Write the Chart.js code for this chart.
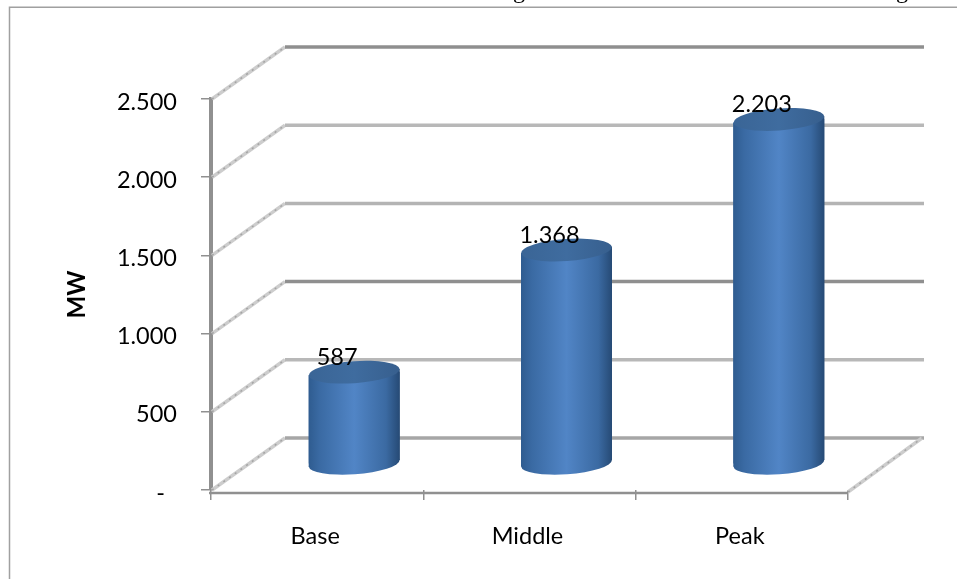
<!DOCTYPE html>
<html>
<head>
<meta charset="utf-8">
<title>MW by load type</title>
<script src="https://cdn.jsdelivr.net/npm/chart.js@4/dist/chart.umd.min.js"></script>
<style>
    html, body { margin: 0; padding: 0; background: #fff; overflow: hidden; }
    #wrap { position: relative; width: 957px; height: 579px; }
</style>
</head>
<body>
<div id="wrap"><canvas id="loadChart" width="957" height="579"></canvas></div>
<script>
const categories = ['Base', 'Middle', 'Peak'];
const mwValues = [587, 1368, 2203];
const valueLabels = ['587', '1.368', '2.203'];
const yTickValues = [0, 500, 1000, 1500, 2000, 2500];
const yTickLabels = ['-  ', '500', '1.000', '1.500', '2.000', '2.500'];
const gridColors = ['#a6a6a6', '#b8b8b8', '#8f8f8f', '#b4b4b4', '#b8b8b8', '#8f8f8f'];

const AXIS_GREY = '#909090';
const FONT = 'Lato, sans-serif';

// depth of the 3D box, the bars stand halfway into it
const DEPTH_X = 74;
const DEPTH_Y = -52;
const BAR_DX = 37;
const BAR_DY = -26;
const CAP_RY = 11;
const CAP_TILT = -0.07;

function barGradient(ctx, x, w) {
    const g = ctx.createLinearGradient(x - w / 2, 0, x + w / 2, 0);
    g.addColorStop(0, '#2f5c90');
    g.addColorStop(0.12, '#3a6aa3');
    g.addColorStop(0.5, '#5185c6');
    g.addColorStop(0.85, '#3b6aa2');
    g.addColorStop(1, '#264a75');
    return g;
}

// four corners of the cylinder wall, slanted with the caps
function wallPath(ctx, bar) {
    const rx = bar.width / 2;
    const lift = Math.sin(-CAP_TILT) * rx;
    ctx.moveTo(bar.x - rx, bar.y + lift);
    ctx.lineTo(bar.x + rx, bar.y - lift);
    ctx.lineTo(bar.x + rx, bar.base - lift);
    ctx.lineTo(bar.x - rx, bar.base + lift);
    ctx.closePath();
}

// back wall, side wall and floor, all hung off the value scale
const box3d = {
    id: 'box3d',
    beforeDraw(chart) {
        const ctx = chart.ctx;
        ctx.save();
        // outer frame runs off the right and bottom of the canvas
        ctx.strokeStyle = '#a0a0a0';
        ctx.lineWidth = 1.5;
        ctx.strokeRect(9.5, 7.25, 1000, 700);
        // heading line above the frame, only its descenders are in view
        ctx.fillStyle = '#000';
        ctx.font = '24px "Liberation Serif"';
        ctx.textAlign = 'center';
        ctx.textBaseline = 'alphabetic';
        ctx.fillText('g', 519, -2);
        ctx.fillText('g', 902, -2);
        ctx.restore();
    },
    beforeDatasetsDraw(chart) {
        const { ctx, chartArea: area } = chart;
        const y = chart.scales.y;
        ctx.save();
        yTickValues.forEach((v, i) => {
            const py = y.getPixelForValue(v);
            // side wall diagonal
            ctx.lineCap = 'butt';
            ctx.strokeStyle = '#cdcdcd';
            ctx.lineWidth = 3.5;
            ctx.beginPath();
            ctx.moveTo(area.left + 1, py);
            ctx.lineTo(area.left + DEPTH_X, py + DEPTH_Y);
            ctx.stroke();
            ctx.strokeStyle = '#a4a4a4';
            ctx.lineWidth = 1.5;
            ctx.setLineDash([2, 5]);
            ctx.stroke();
            ctx.setLineDash([]);
            // back wall line
            ctx.strokeStyle = gridColors[i];
            ctx.lineWidth = 3.5;
            ctx.beginPath();
            ctx.moveTo(area.left + DEPTH_X, py + DEPTH_Y);
            ctx.lineTo(area.right + DEPTH_X + 2, py + DEPTH_Y);
            ctx.stroke();
        });
        // floor: right edge and front edge
        const floor = y.getPixelForValue(0);
        ctx.strokeStyle = '#cdcdcd';
        ctx.lineWidth = 3.5;
        ctx.beginPath();
        ctx.moveTo(area.right, floor + 2);
        ctx.lineTo(area.right + DEPTH_X, floor + DEPTH_Y);
        ctx.stroke();
        ctx.strokeStyle = '#a4a4a4';
        ctx.lineWidth = 1.5;
        ctx.setLineDash([2, 5]);
        ctx.stroke();
        ctx.setLineDash([]);
        ctx.strokeStyle = AXIS_GREY;
        ctx.lineWidth = 2.5;
        ctx.beginPath();
        ctx.moveTo(area.left - 2, floor + 3);
        ctx.lineTo(area.right, floor + 3);
        ctx.stroke();
        ctx.restore();
    },
    // bars are shifted into the box, with a round base underneath
    beforeDatasetDraw(chart, args) {
        const ctx = chart.ctx;
        ctx.save();
        ctx.translate(BAR_DX, BAR_DY);
        args.meta.data.forEach(bar => {
            ctx.fillStyle = barGradient(ctx, bar.x, bar.width);
            ctx.beginPath();
            ctx.ellipse(bar.x, bar.base, bar.width / 2, CAP_RY, CAP_TILT, 0, Math.PI * 2);
            ctx.fill();
            ctx.beginPath();
            wallPath(ctx, bar);
            ctx.fill();
        });
        // keep the square corners of the bars from showing past the caps
        ctx.save();
        ctx.beginPath();
        args.meta.data.forEach(bar => wallPath(ctx, bar));
        ctx.clip();
    },
    afterDatasetDraw(chart, args) {
        const ctx = chart.ctx;
        ctx.restore();
        args.meta.data.forEach(bar => {
            const w = bar.width;
            const g = ctx.createLinearGradient(bar.x - w / 2, 0, bar.x + w / 2, 0);
            g.addColorStop(0, '#3a6596');
            g.addColorStop(0.5, '#3f6c9f');
            g.addColorStop(1, '#375f8e');
            ctx.fillStyle = g;
            ctx.beginPath();
            ctx.ellipse(bar.x, bar.y, w / 2, CAP_RY, CAP_TILT, 0, Math.PI * 2);
            ctx.fill();
        });
        ctx.restore();
        // value labels sit left of the bar centre, overlapping the top
        ctx.save();
        ctx.fillStyle = '#000';
        ctx.font = '23.5px ' + FONT;
        ctx.textAlign = 'center';
        ctx.textBaseline = 'middle';
        args.meta.data.forEach((bar, i) => {
            ctx.fillText(valueLabels[i], bar.x + 20, bar.y - 41);
        });
        ctx.restore();
    }
};

const myBarChart = new Chart(document.getElementById('loadChart').getContext('2d'), {
    type: 'bar',
    data: {
        labels: categories,
        datasets: [{
            label: 'MW',
            data: mwValues,
            barThickness: 91,
            backgroundColor(c) {
                const chart = c.chart;
                if (!chart.chartArea) return '#4f81bd';
                const x = chart.scales.x.getPixelForValue(c.dataIndex);
                return barGradient(chart.ctx, x, 91);
            }
        }]
    },
    plugins: [box3d],
    options: {
        responsive: false,
        animation: false,
        layout: { padding: { top: 99, right: 109, left: 0, bottom: 0 } },
        plugins: {
            legend: { display: false },
            title: { display: false },
            tooltip: { enabled: false }
        },
        scales: {
            x: {
                afterFit(s) { s.height = 89; },
                grid: { drawOnChartArea: false, color: AXIS_GREY, lineWidth: 1.5, tickLength: 10 },
                border: { display: false },
                ticks: { color: '#000', padding: 22, labelOffset: -2, font: { family: FONT, size: 23.5 }, maxRotation: 0 }
            },
            y: {
                min: 0,
                max: 2500,
                afterFit(s) { s.width = 211; },
                afterBuildTicks(s) { s.ticks = yTickValues.map(v => ({ value: v })); },
                grid: { drawOnChartArea: false, color: AXIS_GREY, lineWidth: 1.5, tickLength: 10 },
                border: { display: true, color: AXIS_GREY, width: 4 },
                ticks: {
                    color: '#000',
                    padding: 24,
                    labelOffset: 3,
                    font: { family: FONT, size: 23.5 },
                    callback(v) { return yTickLabels[yTickValues.indexOf(v)]; }
                },
                title: {
                    display: true,
                    text: 'MW',
                    color: '#000',
                    font: { family: FONT, size: 24, weight: 'bold' },
                    padding: { top: 63, bottom: 0 }
                }
            }
        }
    }
});
</script>
</body>
</html>
